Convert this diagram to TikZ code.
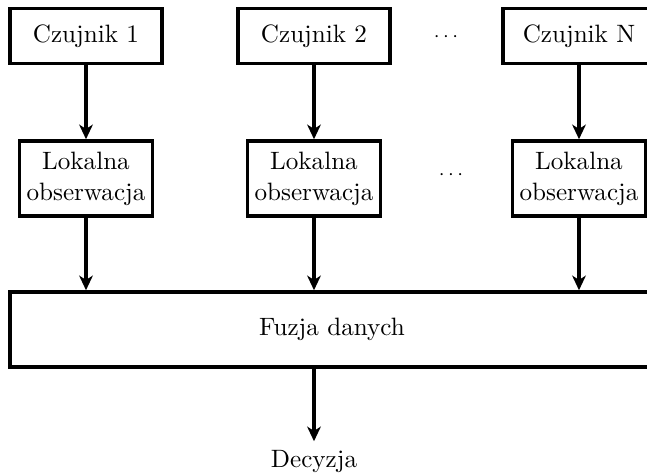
\documentclass[tikz,border=0pt]{standalone}
\usetikzlibrary{arrows.meta}
\begin{document}
\begin{tikzpicture}[x=0.41pt,y=-0.41pt,
  box/.style={draw,line width=1.4pt,align=center,inner sep=2pt,font=\fontsize{10.3}{12.6}\selectfont},
  sensor/.style={box,minimum width=62.3pt,minimum height=22.6pt},
  local/.style={box,minimum width=54.5pt,minimum height=30.8pt},
  fusion/.style={box,minimum width=264pt,minimum height=30.8pt},
  dotsnode/.style={font=\footnotesize},
  conn/.style={line width=1.4pt,-{Stealth[length=6pt,width=5.6pt,inset=1.8pt]}}]
\clip (0,0) rectangle (647,475);
\useasboundingbox (0,0) rectangle (647,475);
\node[sensor] (s1) at (86,36) {Czujnik 1};
\node[sensor] (s2) at (314,36) {Czujnik 2};
\node[sensor] (sn) at (579,36) {Czujnik N};
\node[dotsnode] (d1) at (446,37) {$\cdots$};
\node[local] (l1) at (86,178.5) {Lokalna\\obserwacja};
\node[local] (l2) at (314,178.5) {Lokalna\\obserwacja};
\node[local] (ln) at (579,178.5) {Lokalna\\obserwacja};
\node[dotsnode] (d2) at (451,175) {$\cdots$};
\node[fusion] (f) at (332,329.5) {Fuzja danych};
\node[font=\fontsize{10.3}{12.6}\selectfont] (dec) at (314,461) {Decyzja};
\draw[conn] (s1) -- (l1);
\draw[conn] (s2) -- (l2);
\draw[conn] (sn) -- (ln);
\draw[conn] (l1) -- (l1.south |- f.north);
\draw[conn] (l2) -- (l2.south |- f.north);
\draw[conn] (ln) -- (ln.south |- f.north);
\draw[conn] (dec.north |- f.south) -- (dec);
\end{tikzpicture}
\end{document}
